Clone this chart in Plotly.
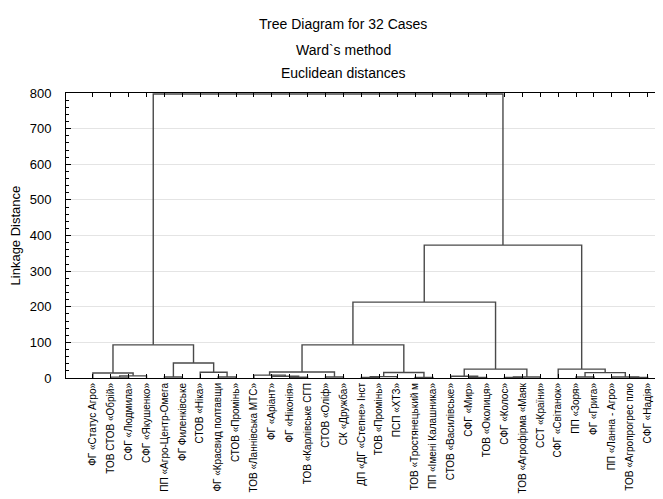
import plotly.graph_objects as go

# ---- data -------------------------------------------------------------
leaf_labels = [
    "ФГ «Статус Агро»", "ТОВ СТОВ «Обрій»", "СФГ «Людмила»", "СФГ «Якушенко»",
    "ПП «Агро-Центр-Омега", "ФГ Филенківське", "СТОВ «Ніка»", "ФГ «Красвид полтавщи",
    "СТОВ «Промінь»", "ТОВ «Ланнівська МТС»", "ФГ «Аріант»", "ФГ «Ніконія»",
    "ТОВ «Карлівське СГП", "СТОВ «Оліф»", "СК «Дружба»", "ДП «ДГ «Степне» Інст",
    "ТОВ «Промінь»", "ПСП «ХТЗ»", "ТОВ «Тростянецький м", "ПП «Імені Калашника»",
    "СТОВ «Василівське»", "СФГ «Мир»", "ТОВ «Околиця»", "СФГ «Колос»",
    "ТОВ «Агрофірма «Маяк", "ССТ «Країни»", "СФГ «Світанок»", "ПП «Зоря»",
    "ФГ «Грига»", "ПП «Ланна - Агро»", "ТОВ «Агропрогрес плю", "СФГ «Надія»",
]

# linkage: ids 0..31 are leaves, 32+k is the k-th merge
merge_a = [1, 32, 0, 4, 7, 6, 35, 34, 11, 10, 9, 13, 42, 15, 45, 18, 46, 44,
           21, 20, 23, 52, 51, 49, 27, 30, 29, 56, 26, 55, 39]
merge_b = [2, 3, 33, 5, 8, 36, 37, 38, 12, 40, 41, 14, 43, 16, 17, 19, 47, 48,
           22, 50, 24, 25, 53, 54, 28, 31, 57, 58, 59, 60, 61]
merge_h = [2.5, 6, 14, 3, 3, 16, 42, 93, 2, 5, 8, 3, 17, 1.5, 4, 1.5, 15.5, 93,
           1.5, 5, 1.5, 3, 25, 213, 3, 1.5, 3, 15, 25, 373, 797]

y_ticks = [0, 100, 200, 300, 400, 500, 600, 700, 800]

# ---- build dendrogram -------------------------------------------------
n = len(leaf_labels)
leaf_x = list(range(1, n + 1))
pos = {i: (leaf_x[i], 0.0) for i in range(n)}
xs, ys = [], []
for k, (a, b, h) in enumerate(zip(merge_a, merge_b, merge_h)):
    xa, ha = pos[a]
    xb, hb = pos[b]
    xs += [xa, xa, xb, xb, None]
    ys += [ha, h, h, hb, None]
    pos[n + k] = ((xa + xb) / 2.0, h)

fig = go.Figure()
fig.add_trace(go.Scatter(x=xs, y=ys, mode="lines",
                         line=dict(color="#4a4a4a", width=1.4),
                         hoverinfo="skip", showlegend=False))

FONT = "Liberation Sans, Arial, sans-serif"

fig.update_layout(
    width=655, height=491,
    margin=dict(l=58, r=1, t=85, b=121, autoexpand=False),
    paper_bgcolor="white", plot_bgcolor="white",
    font=dict(family=FONT, color="black"),
    showlegend=False,
    xaxis=dict(
        range=[-0.5, 32.8], tickmode="array", tickvals=leaf_x, ticktext=leaf_labels,
        tickangle=-90, ticks="inside", ticklen=4, tickcolor="black",
        tickfont=dict(size=10, family=FONT),
        showgrid=False, zeroline=False, automargin=False,
        showline=True, linecolor="black", linewidth=1, mirror="ticks",
    ),
    yaxis=dict(
        range=[0, 800], tickmode="array", tickvals=y_ticks,
        ticks="inside", ticklen=5, tickcolor="black",
        tickfont=dict(size=13, family=FONT), ticklabelstandoff=11,
        showgrid=True, gridcolor="#e4e4e4", gridwidth=1, zeroline=False,
        showline=True, linecolor="black", linewidth=1, mirror="ticks", automargin=False,
        minor=dict(dtick=20, ticks="inside", ticklen=3, tickcolor="black", showgrid=False),
    ),
    annotations=[
        dict(text="Tree Diagram for 32 Cases", x=0.465, y=1.242, xref="paper", yref="paper",
             showarrow=False, font=dict(size=14, family=FONT), xanchor="center", yanchor="middle"),
        dict(text="Ward`s method", x=0.465, y=1.151, xref="paper", yref="paper",
             showarrow=False, font=dict(size=14, family=FONT), xanchor="center", yanchor="middle"),
        dict(text="Euclidean distances", x=0.465, y=1.070, xref="paper", yref="paper",
             showarrow=False, font=dict(size=14, family=FONT), xanchor="center", yanchor="middle"),
        dict(text="Linkage Distance", x=-0.084, y=0.5, xref="paper", yref="paper",
             showarrow=False, textangle=-90, font=dict(size=13, family=FONT),
             xanchor="center", yanchor="middle"),
    ],
)

fig.write_html("out.html")
